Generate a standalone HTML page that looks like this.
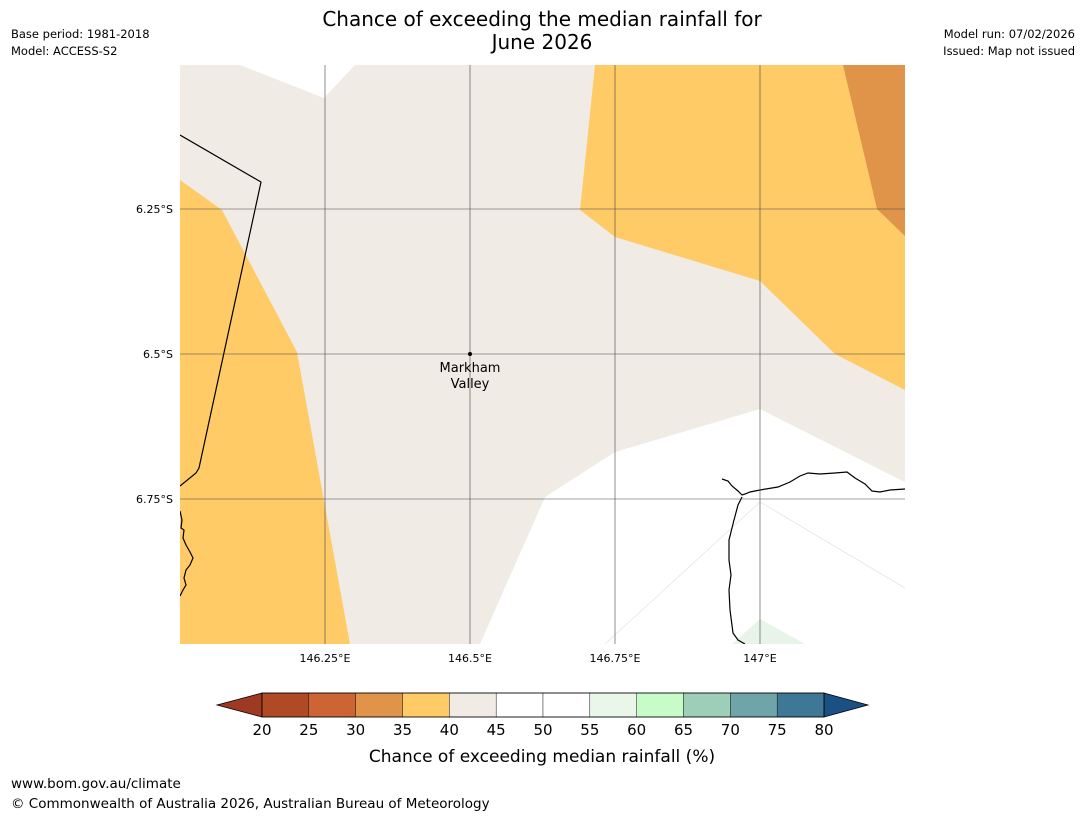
<!DOCTYPE html>
<html><head><meta charset="utf-8"><style>
body{margin:0;background:#fff;width:1085px;height:816px;overflow:hidden;font-family:"Liberation Sans","DejaVu Sans",sans-serif;}
svg{position:absolute;left:0;top:0}
</style></head><body>
<svg width="1085" height="816" font-family="DejaVu Sans, Liberation Sans, sans-serif">
<text x="542" y="26" font-size="20" text-anchor="middle">Chance of exceeding the median rainfall for</text>
<text x="542" y="49" font-size="20" text-anchor="middle">June 2026</text>
<text x="11" y="38" font-size="11.5">Base period: 1981-2018</text>
<text x="11" y="55" font-size="11.5">Model: ACCESS-S2</text>
<text x="1075" y="38" font-size="11.5" text-anchor="end">Model run: 07/02/2026</text>
<text x="1075" y="55" font-size="11.5" text-anchor="end">Issued: Map not issued</text>
<g>
<clipPath id="c"><rect x="180" y="65" width="725" height="579"/></clipPath>
<g clip-path="url(#c)">
<rect x="180" y="65" width="725" height="579" fill="#f0ebe5"/>
<polygon points="240,65 324,98 355,65" fill="#fff"/>
<polygon points="480,644 545,497 615,452 760,409 905,482 905,644" fill="#fff"/>
<polyline points="605,644 760,502 905,588" fill="none" stroke="#ddd" stroke-width="0.6"/>
<polygon points="732,644 760,619 805,644" fill="#e8f4e8"/>
<polygon points="180,180 222,210 297,352 350,644 180,644" fill="#fecb66"/>
<polygon points="595,65 580,210 615,237 760,281 835,354 905,390 905,65" fill="#fecb66"/>
<polygon points="843,65 877,209 905,236 905,65" fill="#e0944a"/>
<polyline points="180,135 261,182 199,468 196,473 180,486" fill="none" stroke="#000" stroke-width="1.2"/>
<polyline points="180,511 182,520 181,528 184,530 183,538 186,545 190,552 193,558 190,565 186,570 184,578 186,585 183,590 180,596" fill="none" stroke="#000" stroke-width="1.2"/>
<polyline points="722,479 728,481 732,486 738,491 742,495 745,494 750,492 760,490 778,487 790,482 800,476 808,473 820,474 835,473 847,472 855,478 865,484 872,491 880,492 890,490 905,489" fill="none" stroke="#000" stroke-width="1.2"/>
<polyline points="742,497 738,505 734,520 729,540 729,560 731,575 729,590 730,610 733,633 738,640 745,644" fill="none" stroke="#000" stroke-width="1.2"/>
<g stroke="#444" stroke-width="0.6">
<line x1="325" y1="65" x2="325" y2="644"/><line x1="470" y1="65" x2="470" y2="644"/>
<line x1="615" y1="65" x2="615" y2="644"/><line x1="760" y1="65" x2="760" y2="644"/>
<line x1="180" y1="209" x2="905" y2="209"/><line x1="180" y1="354" x2="905" y2="354"/>
<line x1="180" y1="499" x2="905" y2="499"/>
</g>
</g>
<circle cx="470" cy="354" r="2" fill="#000"/>
<text x="470" y="372" font-size="13" text-anchor="middle">Markham</text>
<text x="470" y="388" font-size="13" text-anchor="middle">Valley</text>
<g font-size="11" text-anchor="end">
<text x="173" y="213">6.25°S</text><text x="173" y="358">6.5°S</text><text x="173" y="503">6.75°S</text></g>
<g font-size="11" text-anchor="middle">
<text x="325" y="662">146.25°E</text><text x="470" y="662">146.5°E</text><text x="615" y="662">146.75°E</text><text x="760" y="662">147°E</text></g>
</g>
<g>
<polygon points="217,705 262,693 262,717" fill="#9e3a22" stroke="#000" stroke-width="0.8"/>
<polygon points="868,705 824,693 824,717" fill="#1a5083" stroke="#000" stroke-width="0.8"/>
<g id="cb"></g>
<rect x="262" y="693" width="562" height="24" fill="none" stroke="#000" stroke-width="0.8"/>
<text x="542" y="762" font-size="17" text-anchor="middle">Chance of exceeding median rainfall (%)</text>
</g>
<text x="11" y="788" font-size="13.5">www.bom.gov.au/climate</text>
<text x="11" y="808" font-size="13.5">© Commonwealth of Australia 2026, Australian Bureau of Meteorology</text>
</svg>
<script>
const ticks=[20,25,30,35,40,45,50,55,60,65,70,75,80];
const colors=["#b04a25","#cc6533","#e0944a","#fecb66","#f0ebe5","#ffffff","#ffffff","#eaf6ea","#c7fcc9","#9dcfb8","#6fa4a8","#3f7797"];
const ns="http://www.w3.org/2000/svg",g=document.getElementById('cb');
const x=v=>262+(v-20)/60*562;
colors.forEach((c,i)=>{const r=document.createElementNS(ns,'rect');
r.setAttribute('x',x(ticks[i]));r.setAttribute('y',693);r.setAttribute('width',x(ticks[i+1])-x(ticks[i]));r.setAttribute('height',24);
r.setAttribute('fill',c);r.setAttribute('stroke','#000');r.setAttribute('stroke-width','0.4');


g.appendChild(r);});
ticks.forEach(t=>{const e=document.createElementNS(ns,'text');
e.setAttribute('x',x(t));e.setAttribute('y',735);e.setAttribute('font-size','15');e.setAttribute('text-anchor','middle');e.textContent=t;


g.appendChild(e);});
</script>
</body></html>
